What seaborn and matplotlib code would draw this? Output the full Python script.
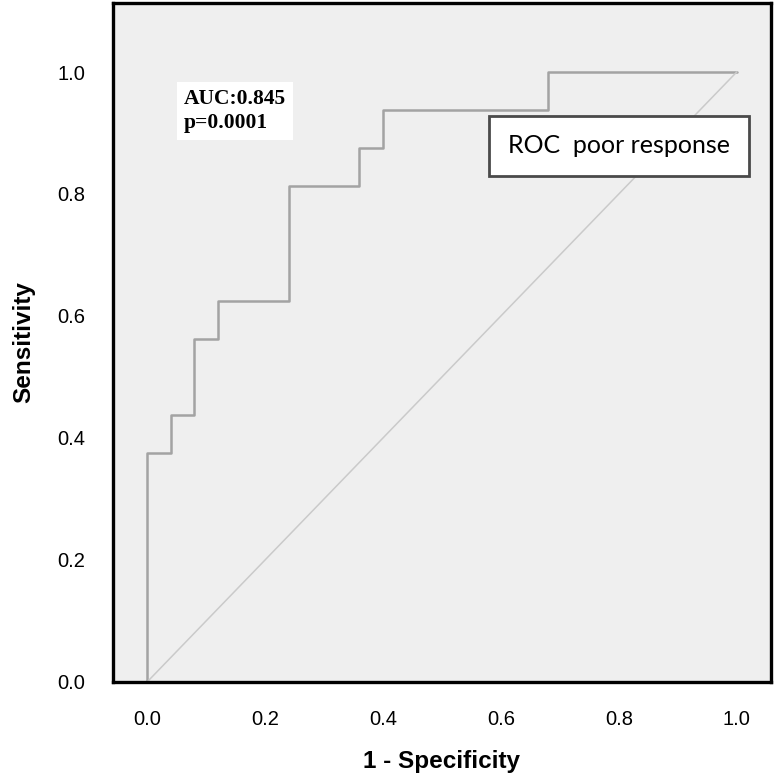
import pandas as pd
import numpy as np
import matplotlib
matplotlib.use("Agg")
import matplotlib.pyplot as plt
import seaborn as sns

# ROC points (1 - specificity, sensitivity), corners of the step curve
fpr = [0.0, 0.0, 0.04, 0.08, 0.12, 0.24, 0.36, 0.40, 0.68, 1.0]
tpr = [0.0, 0.375, 0.4375, 0.5625, 0.625, 0.8125, 0.875, 0.9375, 1.0, 1.0]
ref_line = [0.0, 1.0]
ticks = [0.0, 0.2, 0.4, 0.6, 0.8, 1.0]
auc_text = "AUC:0.845\np=0.0001"
title_text = "ROC  poor response"

sns.set_style("white")
plt.rcParams['font.family'] = ['Liberation Sans', 'DejaVu Sans']
plt.rcParams['text.color'] = 'black'

fig = plt.figure(figsize=(7.74, 7.74), dpi=100)
ax = fig.add_axes([0.146, 0.119, 0.850, 0.877])
ax.set_facecolor('#efefef')

roc = pd.DataFrame({'fpr': fpr, 'tpr': tpr})
sns.lineplot(data=roc, x='fpr', y='tpr', ax=ax, sort=False, estimator=None,
             drawstyle='steps-post', color='#a3a3a3', linewidth=1.8)
# diagonal reference
sns.lineplot(x=ref_line, y=ref_line, ax=ax, sort=False, estimator=None,
             color='#cacaca', linewidth=1.1)

ax.set_xlim(-0.058, 1.058)
ax.set_ylim(0.0, 1.113)
ax.set_xticks(ticks)
ax.set_yticks(ticks)
ax.set_xticklabels([f"{t:.1f}" for t in ticks])
ax.set_yticklabels([f"{t:.1f}" for t in ticks])
ax.tick_params(axis='both', direction='out', length=9, width=1.6,
               labelsize=14.5, colors='black')
ax.tick_params(axis='y', pad=11)
ax.tick_params(axis='x', pad=11)
for s in ax.spines.values():
    s.set_linewidth(2.4)
    s.set_color('black')

ax.set_xlabel("1 - Specificity", fontsize=17.5, fontweight='bold',
              color='black', labelpad=15)
ax.set_ylabel("Sensitivity", fontsize=17.5, fontweight='bold',
              color='black', labelpad=16)

# AUC annotation
ax.text(0.062, 0.936, auc_text, fontsize=15.5, fontweight='bold', color='black',
        family='Liberation Serif', va='center', ha='left', linespacing=1.3,
        bbox=dict(facecolor='white', edgecolor='none', pad=5))

# legend-like title box
ax.text(0.8, 0.879, title_text, fontsize=18, family='Lato', color='black',
        va='center', ha='center',
        bbox=dict(facecolor='white', edgecolor='#4a4a4a', linewidth=2,
                  boxstyle='square,pad=0.75'))

fig.savefig("out.png", dpi=100)
